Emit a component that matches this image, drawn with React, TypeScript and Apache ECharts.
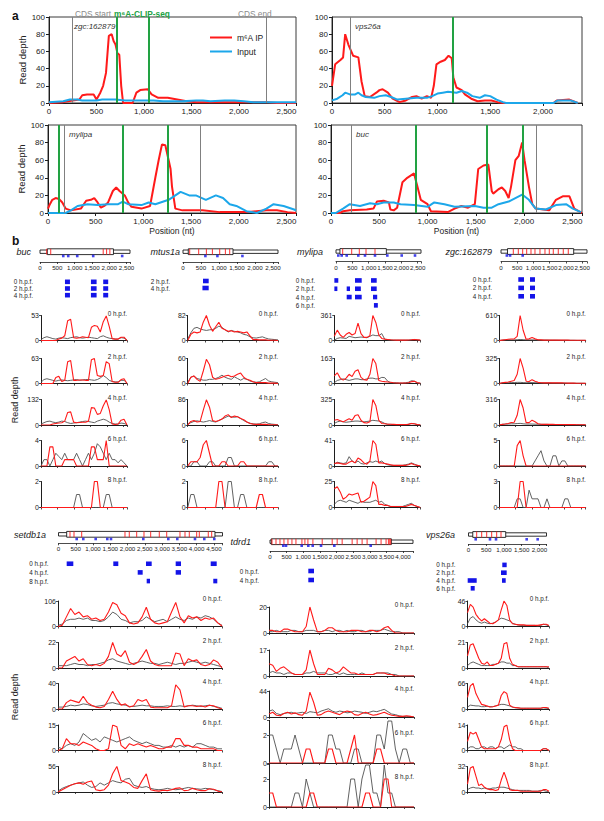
import React, { useEffect, useRef } from "react";
import * as echarts from "echarts";

const FONT = "'Liberation Sans', Arial, Helvetica, sans-serif";
const RED = "#ff1a1a";
const BLUE = "#1ca7ea";
const GREEN = "#22a243";
const REF_GRAY = "#808080";
const INPUT_GRAY = "#505050";
const SPOT_BLUE = "#1414e8";
const AXIS = "#1e1e1e";

/* ---------------- panel a : [position (nt), read depth] ---------------- */
const zgcIP = [[0,0],[150,1],[250,3],[320,4],[350,9],[400,10],[470,10],[500,4],[540,12],[570,20],[600,35],[630,78],[660,80],[680,72],[700,68],[720,58],[740,56],[760,20],[780,0],[880,0],[920,12],[960,15],[1040,16],[1080,10],[1150,6],[1250,6],[1350,4],[1450,2],[1550,1],[2200,1],[2300,1],[2400,0],[2600,0]];
const zgcInput = [[0,1],[150,2],[220,4],[300,4],[350,3],[500,3],[560,4],[700,4],[800,3],[1000,3],[1100,3],[1200,2],[1400,2],[1550,3],[1620,3],[1700,2],[1850,3],[1950,3],[2050,2],[2150,1],[2600,1]];
const zgcCDS = [242, 2284];
const zgcCLIP = [712, 1052];

const vpsIP = [[0,20],[30,45],[80,50],[105,53],[125,80],[155,68],[200,55],[250,53],[280,25],[310,8],[360,7],[420,12],[450,15],[480,16],[530,12],[575,5],[640,1],[700,3],[760,7],[800,8],[850,5],[900,8],[940,6],[965,20],[990,45],[1030,48],[1070,50],[1105,55],[1135,52],[1150,30],[1180,18],[1230,15],[1260,10],[1320,5],[1380,2],[1450,3],[1510,3],[1570,1],[1630,0],[2100,0],[2130,3],[2250,4],[2330,0]];
const vpsInput = [[0,3],[50,5],[100,9],[125,12],[170,10],[220,10],[250,12],[280,9],[320,7],[400,6],[450,8],[510,9],[560,7],[620,4],[700,5],[800,6],[900,6],[950,8],[1000,11],[1050,12],[1100,13],[1180,12],[1230,14],[1280,12],[1330,8],[1400,6],[1450,9],[1500,8],[1560,4],[1620,1],[1650,0],[2100,0],[2140,3],[2260,3],[2330,0]];
const vpsCDS = [177];
const vpsCLIP = [1141];

const mylipaIP = [[0,5],[20,10],[45,15],[80,17],[115,16],[150,12],[185,5],[240,3],[345,5],[400,14],[450,15],[485,17],[520,12],[555,6],[590,8],[630,12],[680,25],[715,29],[750,25],[805,20],[840,12],[875,7],[980,5],[1070,8],[1125,40],[1160,60],[1195,78],[1230,77],[1265,60],[1285,50],[1300,30],[1335,5],[1410,3],[1620,3],[1800,1],[2100,1],[2290,3],[2400,3],[2510,1],[2600,0]];
const mylipaInput = [[0,0],[185,0],[240,3],[310,8],[415,10],[520,9],[630,10],[735,10],[785,13],[840,10],[980,9],[1055,12],[1125,10],[1265,15],[1335,20],[1390,24],[1480,20],[1550,20],[1655,15],[1760,20],[1835,17],[1905,10],[1975,8],[2080,2],[2190,0],[2290,5],[2365,10],[2470,8],[2580,4],[2600,3]];
const mylipaCDS = [170, 1600];
const mylipaCLIP = [110, 780, 1260];

const bucIP = [[0,0],[90,0],[125,2],[195,3],[370,4],[440,5],[475,13],[545,14],[600,12],[615,4],[650,3],[685,6],[740,35],[790,40],[860,45],[895,30],[930,15],[1000,10],[1035,2],[1210,1],[1280,5],[1350,8],[1420,6],[1490,10],[1525,50],[1580,54],[1630,55],[1665,25],[1680,22],[1735,27],[1770,29],[1805,25],[1840,17],[1865,30],[1910,60],[1945,65],[1980,80],[2005,60],[2050,30],[2085,10],[2120,5],[2260,3],[2330,15],[2400,19],[2470,19],[2520,5],[2600,0]];
const bucInput = [[0,0],[50,0],[125,5],[195,10],[300,8],[405,11],[475,10],[545,12],[650,12],[720,10],[860,9],[1000,7],[1070,12],[1175,10],[1280,7],[1490,8],[1580,6],[1665,6],[1735,10],[1840,13],[1980,21],[2050,15],[2120,5],[2225,4],[2330,9],[2435,10],[2505,5],[2590,1]];
const bucCDS = [211, 2122];
const bucCLIP = [873, 1612, 1991];

/* ---------------- panel b : read depth profiles (evenly spaced along the transcript) ---------------- */
const bucIP_0 = [0,0,0,0,0,0,3,5,10,42,45,6,5,6,8,7,6,28,32,30,18,40,52,30,4,3,3,7,7,0];
const bucIN_0 = [2,6,8,6,4,3,5,6,5,4,6,7,8,6,5,6,7,6,5,4,8,10,7,5,4,3,3,6,5,1];
const bucIP_2 = [0,0,0,0,0,15,18,5,8,55,58,8,8,9,9,8,8,60,63,20,18,20,55,50,5,3,3,10,12,0];
const bucIN_2 = [3,10,12,10,8,6,8,9,8,7,8,9,10,8,9,10,10,9,8,10,14,20,15,8,5,4,4,8,8,1];
const bucIP_4 = [0,0,0,0,5,8,10,12,20,65,68,15,12,13,14,14,20,90,88,55,60,100,130,80,5,3,5,25,30,0];
const bucIN_4 = [5,12,18,20,15,12,15,20,18,12,8,10,12,15,18,20,18,15,12,20,25,30,25,15,8,5,5,10,8,2];
const bucIP_6 = [0,0,0,3,3,0,0,0,1,1,1,1,0,0,0,0,0,3,3,1,1,1,4,0,0,0,0,0,0,0];
const bucIN_6 = [0,1,1,0,1,2,1.5,1,2,1,1,1,2,1,0,1,2,1,2,3.5,3,2,1,2,1,1,0.5,1,0.5,0];
const bucIP_8 = [0,0,0,0,0,0,0,0,0,0,0,0,0,0,0,0,0,0,2,2,0,0,0,0,0,0,0,0,0,0];
const bucIN_8 = [0,0,0,0,0,0,0,0,0,0,0,0,1,1,0,0,0,0,0,0,0,0,1,1,0,0,0,0,0,0];

const mtIP_0 = [0,20,28,25,28,60,82,50,30,45,60,40,35,30,32,28,30,28,25,28,15,3,3,2,2,2,1,1,1,0];
const mtIN_0 = [5,25,40,43,38,35,33,35,36,40,47,43,35,28,33,30,28,25,20,18,12,9,8,10,12,8,5,4,3,2];
const mtIP_2 = [0,15,18,10,5,30,58,45,15,10,12,15,18,20,16,18,22,25,15,10,8,4,2,2,2,2,1,1,1,0];
const mtIN_2 = [3,15,18,12,10,8,8,10,10,12,15,20,15,12,10,16,12,8,12,10,6,4,3,4,8,12,6,4,3,2];
const mtIP_4 = [0,12,15,10,12,50,85,60,15,12,15,20,30,35,25,30,28,22,18,10,5,3,2,2,2,2,1,1,1,0];
const mtIN_4 = [2,8,12,14,12,10,12,15,12,10,15,20,25,30,28,26,28,22,15,10,6,4,3,4,8,10,5,3,2,1];
const mtIP_6 = [0,1,1,1,2,5,6,3,0,0,0,1,1,0,0,0,0,1,1,0,0,0,0,0,0,0,0,0,0,0];
const mtIN_6 = [0,0,1,1,0,0,0,1,1,0,0,0,0,2,2,0,0,0,0,0,0,0,0,0,0,0,1,1,0,0];
const mtIP_8 = [0,0,0,0,0,0,0,0,0,0,2,2,0,0,0,0,0,0,0,0,0,0,0,1,1,0,0,0,0,0];
const mtIN_8 = [0,1,1,0,0,0,0,0,0,0,0,0,0,2,2,0,0,1,1,0,0,0,0,0,0,0,0,0,0,0];

const myIP_0 = [60,150,80,45,90,115,80,100,250,100,45,45,70,361,260,80,30,20,15,10,8,5,5,5,5,8,10,15,10,5];
const myIN_0 = [5,30,40,35,30,60,50,40,45,50,45,40,60,80,70,70,100,20,10,8,5,5,5,5,5,5,10,15,8,3];
const myIP_2 = [50,70,35,22,35,60,45,80,90,40,25,22,60,163,130,20,15,12,10,8,5,3,3,3,3,5,12,14,5,2];
const myIN_2 = [5,20,25,30,25,20,25,30,30,25,25,30,35,35,30,30,40,38,15,5,5,5,3,3,5,8,18,15,5,2];
const myIP_4 = [60,70,55,40,60,80,60,120,130,60,30,25,40,325,250,60,20,15,10,10,8,5,5,5,5,8,20,15,5,2];
const myIN_4 = [20,40,50,40,35,40,45,50,50,45,40,45,50,60,55,50,40,20,10,8,5,5,5,5,5,10,20,15,5,2];
const myIP_6 = [4,5,4,3,3,6,8,5,13,10,5,3,8,41,35,5,5,4,3,2,1,1,1,1,1,2,4,2,1,0];
const myIN_6 = [3,6,5,4,5,15,8,5,8,4,3,5,7,6,8,6,8,4,2,1,1,1,1,1,2,3,5,3,1,0];
const myIP_8 = [18,20,15,8,10,13,12,13,14,5,6,8,10,25,21,3,3,2,2,1,1,1,1,1,1,2,3,2,1,0];
const myIN_8 = [3,6,7,6,5,7,6,5,4,6,5,5,5,6,7,5,6,3,2,1,1,1,1,1,2,3,4,2,1,0];

const zgIP_0 = [0,10,20,30,35,40,100,610,250,30,40,75,40,20,15,10,10,10,12,10,8,8,8,8,5,5,5,5,5,3];
const zgIN_0 = [0,10,15,15,15,15,20,25,20,15,15,15,15,12,10,10,10,8,8,8,6,5,5,5,5,5,3,3,3,2];
const zgIP_2 = [0,10,15,20,30,40,120,325,200,30,25,50,30,15,10,8,8,10,8,8,10,8,6,5,5,5,4,4,3,2];
const zgIN_2 = [0,8,10,10,12,12,15,15,12,10,12,12,10,10,8,8,8,8,6,6,5,5,5,4,4,4,3,3,3,2];
const zgIP_4 = [0,8,12,18,30,35,120,316,210,30,30,60,40,15,10,8,8,8,8,6,6,6,5,5,5,5,4,4,3,2];
const zgIN_4 = [0,8,12,12,15,15,18,20,15,12,12,12,10,10,8,8,8,6,6,6,5,5,5,4,4,4,3,3,3,2];
const zgIP_6 = [0,0,0,0,0,0,4,5,2,0,0,0,0,0,0,0,0,0,0,0,0,0,0,0,0,0,0,0,0,0];
const zgIN_6 = [0,0,0,0,0,0,0,0,0,0,0,0,1,2,3,1,0,0,2,2,0,1,1,0,0,0,0,0,0,0];
const zgIP_8 = [0,0,0,0,0,0,0,3,3,0,0,0,0,0,0,0,0,0,0,0,0,0,0,0,0,0,0,0,0,0];
const zgIN_8 = [0,0,0,0,0,0,1,1,0,0,2,1,1,1,0,0,1,0,0,0,0,0,1,1,0,0,0,0,0,0];

const setIP_0 = [0,5,40,75,50,60,40,45,30,35,25,30,60,100,90,55,45,15,10,15,40,80,30,15,10,15,20,60,100,40,15,45,35,40,25,35,30,35,15,2];
const setIN_0 = [5,10,25,30,30,35,30,35,25,25,20,25,40,60,50,30,25,15,20,20,25,40,30,20,25,30,20,30,40,30,25,35,30,40,35,45,40,30,15,5];
const setIP_2 = [0,0,6,8,10,6,8,3,2,3,2,4,10,22,12,10,15,5,3,5,10,16,6,3,2,2,2,2,13,12,2,8,6,7,3,2,3,7,5,0];
const setIN_2 = [2,2,2,3,4,3,3,2,3,3,4,5,7,8,6,5,4,3,4,5,6,5,4,4,3,4,5,4,3,4,4,5,6,5,4,5,4,3,2,1];
const setIP_4 = [0,0,10,14,12,10,20,10,6,3,2,4,15,28,15,6,8,3,5,15,12,15,3,2,2,2,2,5,38,30,3,5,5,4,5,3,6,5,2,0];
const setIN_4 = [3,3,4,6,5,6,8,7,5,4,5,6,9,10,8,7,6,4,4,5,6,5,5,4,4,4,5,4,4,5,4,5,6,5,4,5,6,4,3,1];
const setIP_6 = [0,1,7,4,4,3,5,4,3,1,0,0,1,15,14,3,1,4,3,4,3,2,3,2,1,1,2,2,7,7,3,3,2,2,1,1,1,1,0,0];
const setIN_6 = [2,1,3,4,3,5,10,8,6,7,5,8,7,6,5,6,7,8,6,5,4,5,4,3,3,2,2,3,2,3,2,3,2,4,4,3,2,2,1,1];
const setIP_8 = [0,5,10,15,18,20,17,22,24,5,3,5,15,40,56,25,22,18,10,8,25,40,5,3,2,4,3,5,8,9,3,4,8,5,3,3,7,6,2,0];
const setIN_8 = [2,8,12,15,18,20,22,15,10,12,20,15,20,25,22,20,28,30,15,12,10,12,8,6,5,6,8,6,5,6,8,10,8,7,6,8,7,5,3,1];

const tdIP_0 = [2,2,1,1,3,3,2,1,1,1,5,20,10,1,1,2,4,4,2,1,1,1,2,2,2,1,1,2,2,1,2,4,5,2,0,0,0,0,0,0];
const tdIN_0 = [1,1,2,1,1,1,2,2,1,1,2,2,2,1,1,2,2,1,2,2,1,2,1,1,2,2,1,1,2,2,2,3,2,1,1,1,0,0,0,0];
const tdIP_2 = [8,7,3,5,6,4,2,1,1,1,4,17,8,1,1,1,5,4,2,3,6,4,2,2,1,1,1,1,1,2,2,2,1,1,0,0,0,0,0,0];
const tdIN_2 = [2,3,2,2,1,2,2,1,1,1,2,2,3,2,2,2,1,1,2,1,2,1,1,1,1,2,1,1,1,2,2,2,2,1,1,0,0,0,0,0];
const tdIP_4 = [5,8,3,2,6,8,5,7,4,3,10,42,25,3,4,8,10,8,6,4,8,10,9,4,3,6,8,5,3,4,6,8,5,3,2,1,1,2,1,0];
const tdIN_4 = [10,12,6,4,6,7,8,6,7,8,6,9,8,7,10,12,14,10,8,10,9,7,8,10,9,8,6,8,10,9,11,13,9,5,4,2,1,1,1,0];
const tdIP_6 = [0,0,0,0,0,0,0,0,0,0,1,1,0,0,0,0,1,1,0,0,0,0,1,2,0,0,0,0,0,1,1,0,0,0,0,0,0,0,0,0];
const tdIN_6 = [2,2,1,0,1,1,1,2,1,0,0,0,0,0,0,0,2,2,1,1,0,0,0,1,1,0,0,0,0,2,2,1,3,3,1,0,1,1,0,0];
const tdIP_8 = [1,1,0,0,0,0,0,0,0,0,0,1,1,0,0,0,0,0,0,0,0,0,0,0,0,0,1,1,0,0,0,2,2,0,0,0,0,0,0,0];
const tdIN_8 = [0,0,0,0,0,0,0,1,1,0,2,1,0,0,0,0,0,0,0,0,0,0,2,2,0,2,3,3,1,1,0,3,1,1,0,0,0,0,0,0];

const vpIP_0 = [25,40,35,22,15,10,14,10,6,5,8,12,30,46,38,12,5,4,3,3,3,2,2,2,2,2,3,4,4,2];
const vpIN_0 = [5,15,18,12,8,6,8,6,5,6,8,12,15,14,12,10,6,4,3,2,2,2,2,2,2,1,2,4,3,1];
const vpIP_2 = [10,19,20,14,8,4,3,5,2,2,3,4,8,20,21,8,3,2,1,1,1,1,1,1,1,1,1,1,1,1];
const vpIN_2 = [2,4,5,4,3,2,2,2,2,3,3,4,5,5,4,4,2,2,1,1,1,1,1,1,1,1,1,1,1,0];
const vpIP_4 = [30,60,66,40,25,12,10,8,5,6,8,10,35,45,40,10,5,4,3,2,2,2,2,2,2,2,2,4,4,2];
const vpIN_4 = [5,10,9,8,8,6,6,7,6,6,8,10,12,12,10,8,5,3,3,2,2,2,2,2,2,2,2,3,2,1];
const vpIP_6 = [5,10,9,10,6,2,1,1,1,1,1,2,6,13,14,6,1,0,0,0,0,0,0,0,0,0,0,1,1,0];
const vpIN_6 = [1,2,2,1,1,2,2,1,2,2,1,2,2,1,2,3,2,2,1,1,0,0,0,0,0,0,0,1,1,0];
const vpIP_8 = [10,30,32,20,8,10,6,4,3,3,2,3,15,25,15,3,2,2,2,1,1,1,1,1,1,1,1,3,3,1];
const vpIN_8 = [3,5,6,5,5,4,5,4,4,5,5,6,6,6,5,4,3,2,2,2,2,2,2,1,1,1,2,2,1,0];

/* ---------------- panel b : gene models (nt) ---------------- */
const bucLen = 2600, bucCDSb = [211, 2122];
const bucJunc = [193, 310, 1826, 1924, 2019];
const bucSites = [672, 816, 1076, 1537, 2374];
const bucRows = ["0 h.p.f.", "2 h.p.f.", "4 h.p.f."];
const bucSpots = [[721,865,0],[1471,1635,0],[1826,1970,0],[721,865,1],[1471,1635,1],[1826,1970,1],[721,865,2],[1471,1635,2],[1826,1970,2]];

const mtLen = 2640, mtCDS = [147, 1390];
const mtJunc = [186, 436, 650, 817, 1020, 1178, 1298];
const mtSites = [622, 956, 1651];
const mtRows = ["2 h.p.f.", "4 h.p.f."];
const mtSpots = [[556,714,0],[540,714,1]];

const myLen = 2600, myCDS = [120, 1540];
const myJunc = [205, 480, 713, 918, 1193];
const mySites = [70, 174, 327, 682, 887, 1193, 1570, 2010, 2417];
const myRows = ["0 h.p.f.", "2 h.p.f.", "4 h.p.f.", "6 h.p.f."];
const mySpots = [[-50,70,0],[581,786,0],[1071,1245,0],[-50,40,1],[327,428,1],[581,760,1],[1071,1245,1],[327,480,2],[581,786,2],[1132,1260,2],[1160,1280,3]];

const zgLen = 2650, zgCDS = [200, 2240];
const zgJunc = [379, 533, 668, 792, 924, 1047, 1201, 1355, 1488, 1611, 1765, 1919, 2073];
const zgSites = [180, 280, 668];
const zgRows = ["0 h.p.f.", "2 h.p.f.", "4 h.p.f."];
const zgSpots = [[533,708,0],[893,1047,0],[533,708,1],[893,1047,1],[533,708,2],[893,1047,2]];

const setLen = 4750, setCDS = [237, 4532];
const setJunc = [333, 449, 672, 1926, 2050, 2265, 2476, 2670, 2919, 3134, 3519, 3664, 3788, 4002, 4078, 4338, 4437];
const setSites = [527, 718, 1077, 1413, 1520, 2456, 3180, 3440, 3953, 4222, 4512];
const setRows = ["0 h.p.f.", "4 h.p.f.", "8 h.p.f."];
const setSpots = [[237,429,0],[1587,1732,0],[2534,2699,0],[3394,3548,0],[4408,4582,0],[2294,2438,1],[3394,3548,1],[2554,2650,2],[4483,4599,2]];

const tdLen = 4300, tdCDS = [40, 3650];
const tdJunc = [60, 180, 300, 420, 540, 660, 780, 960, 1050, 1140, 1290, 1570, 1870, 2020, 2170, 2470, 2620, 2770, 2920, 3190, 3340, 3490, 3560, 3600, 3630];
const tdSites = [400, 481, 953, 1152, 1284, 1534, 1934, 3028];
const tdRows = ["0 h.p.f.", "4 h.p.f."];
const tdSpots = [[1152,1323,0],[1152,1323,1]];

const vpLen = 2200, vpCDS = [120, 1050];
const vpJunc = [231, 372, 513, 654, 795, 917];
const vpSites = [203, 606, 776, 1641, 1951];
const vpRows = ["0 h.p.f.", "2 h.p.f.", "4 h.p.f.", "6 h.p.f."];
const vpSpots = [[953,1077,0],[917,1077,1],[-23,231,2],[945,1049,2],[62,175,3]];

/* ---------------- layout ---------------- */
const ROW1_TOPS = [315.5, 358.5, 399.5, 440.5, 481.5];
const ROW1_H = [25, 25, 25.5, 25.5, 26];
const ROW2_TOPS = [601, 642.5, 683.5, 725, 766.5];
const ROW2_H = [25.5, 25.5, 25.5, 25.5, 25.5];
const TD_TOPS = [607, 650, 691, 720.3, 764.3];
const TD_H = [26, 26, 26, 42.7, 42.7];

const commaFmt = (v: number) => (Math.abs(v % 500) < 1e-6 ? v.toLocaleString("en-US") : "");

function buildOption() {
  const grid: any[] = [], xAxis: any[] = [], yAxis: any[] = [], series: any[] = [], elements: any[] = [];
  const addGrid = (rect: any, xa: any, ya: any) => {
    const i = grid.length;
    grid.push({ ...rect, containLabel: false, outerBoundsMode: "none" });
    xAxis.push({ ...xa, gridIndex: i });
    yAxis.push({ ...ya, gridIndex: i });
    return i;
  };
  const text = (x: number, y: number, t: string, size: number, o: any = {}) => {
    const font = `${o.italic ? "italic " : ""}${o.bold ? "bold " : ""}${size}px ${FONT}`;
    elements.push({
      type: "text", x, y, rotation: o.rot || 0, silent: true, z: 100,
      style: { text: t, fill: o.color || "#222", font, textAlign: o.align || "left", textVerticalAlign: "middle", align: o.align || "left", verticalAlign: "middle" },
    });
  };

  /* ---------- panel a ---------- */
  const A_CHARTS = [
    { gene: "zgc:162879", left: 49, top: 17, width: 247, height: 86, xmax: 2600, ip: zgcIP, input: zgcInput, cds: zgcCDS, clip: zgcCLIP, yName: true, xName: false, nx: 74, ny: 26 },
    { gene: "vps26a", left: 332, top: 17, width: 250, height: 86, xmax: 2370, ip: vpsIP, input: vpsInput, cds: vpsCDS, clip: vpsCLIP, yName: false, xName: false, nx: 355, ny: 26 },
    { gene: "mylipa", left: 48, top: 125, width: 248, height: 88, xmax: 2600, ip: mylipaIP, input: mylipaInput, cds: mylipaCDS, clip: mylipaCLIP, yName: true, xName: true, nx: 69, ny: 134 },
    { gene: "buc", left: 331, top: 125, width: 251, height: 88, xmax: 2600, ip: bucIP, input: bucInput, cds: bucCDS, clip: bucCLIP, yName: false, xName: true, nx: 356, ny: 134 },
  ];
  A_CHARTS.forEach((c) => {
    const gi = addGrid(
      { left: c.left, top: c.top, width: c.width, height: c.height, show: true, borderColor: "#3a3a3a", borderWidth: 1 },
      {
        type: "value", min: 0, max: c.xmax, interval: 500,
        axisLine: { show: true, onZero: false, lineStyle: { color: AXIS } },
        axisTick: { show: true, length: 3, lineStyle: { color: AXIS } },
        axisLabel: { fontSize: 8, color: "#222", margin: 4, formatter: commaFmt, fontFamily: FONT },
        splitLine: { show: false },
        name: c.xName ? "Position (nt)" : "", nameLocation: "middle", nameGap: 13,
        nameTextStyle: { fontSize: 8.5, color: "#222", fontFamily: FONT },
      },
      {
        type: "value", min: 0, max: 100, interval: 20,
        axisLine: { show: true, lineStyle: { color: AXIS } },
        axisTick: { show: true, length: 3, lineStyle: { color: AXIS } },
        axisLabel: { fontSize: 8, color: "#222", margin: 4, fontFamily: FONT },
        splitLine: { show: false },
        name: c.yName ? "Read depth" : "", nameLocation: "middle", nameGap: 22,
        nameTextStyle: { fontSize: 9.5, color: "#222", fontFamily: FONT },
      }
    );
    series.push({
      type: "line", name: "m⁶A IP", xAxisIndex: gi, yAxisIndex: gi, data: c.ip, showSymbol: false, symbol: "none",
      lineStyle: { color: RED, width: 2 }, itemStyle: { color: RED }, z: 3, silent: true,
      markLine: {
        silent: true, symbol: ["none", "none"], label: { show: false }, animation: false,
        data: [
          ...c.cds.map((v) => ({ xAxis: v, lineStyle: { color: REF_GRAY, width: 1, type: "solid" } })),
          ...c.clip.map((v) => ({ xAxis: v, lineStyle: { color: GREEN, width: 2, type: "solid" } })),
        ],
      },
    });
    series.push({
      type: "line", name: "Input", xAxisIndex: gi, yAxisIndex: gi, data: c.input, showSymbol: false, symbol: "none",
      lineStyle: { color: BLUE, width: 2 }, itemStyle: { color: BLUE }, z: 4, silent: true,
    });
    text(c.nx, c.ny, c.gene, 8, { italic: true, color: "#333" });
  });
  text(12, 15.5, "a", 12, { bold: true, color: "#111" });
  text(75, 13.5, "CDS start", 8.3, { color: "#8a8a8a" });
  text(114, 13.5, "m⁶A-CLIP-seq", 8.3, { color: GREEN, bold: true });
  text(238, 13.5, "CDS end", 8.3, { color: "#8a8a8a" });

  /* ---------- panel b ---------- */
  text(12, 241, "b", 12, { bold: true, color: "#111" });
  text(15, 400, "Read depth", 9, { rot: Math.PI / 2, align: "center" });
  text(15, 697, "Read depth", 9, { rot: Math.PI / 2, align: "center" });

  const B_GENES: any[] = [
    {
      name: "buc", nameRight: 31, nameY: 252, len: bucLen, cds: bucCDSb, junc: bucJunc, sites: bucSites, rows: bucRows, spots: bucSpots,
      diag: { left: 40, width: 90, axisY: 262, h: 16, box: 10.3, dot: 6 }, dots: { top: 278.5, height: 20, margin: 7 },
      mini: { left: 41, width: 86, len: 2600, tops: ROW1_TOPS, heights: ROW1_H },
      tracks: [[bucIP_0, bucIN_0, 53, 53, "0 h.p.f."], [bucIP_2, bucIN_2, 63, 63, "2 h.p.f."], [bucIP_4, bucIN_4, 132, 132, "4 h.p.f."], [bucIP_6, bucIN_6, 4, 4, "6 h.p.f."], [bucIP_8, bucIN_8, 2, 2, "8 h.p.f."]],
    },
    {
      name: "mtus1a", nameRight: 180, nameY: 252, len: mtLen, cds: mtCDS, junc: mtJunc, sites: mtSites, rows: mtRows, spots: mtSpots,
      diag: { left: 183, width: 95, axisY: 262, h: 16, box: 10.3, dot: 6 }, dots: { top: 277.5, height: 14, margin: 13 },
      mini: { left: 187.7, width: 90.3, len: 2640, tops: ROW1_TOPS, heights: ROW1_H },
      tracks: [[mtIP_0, mtIN_0, 82, 82, "0 h.p.f."], [mtIP_2, mtIN_2, 60, 60, "2 h.p.f."], [mtIP_4, mtIN_4, 86, 86, "4 h.p.f."], [mtIP_6, mtIN_6, 6, 6, "6 h.p.f."], [mtIP_8, mtIN_8, 2, 2, "8 h.p.f."]],
    },
    {
      name: "mylipa", nameRight: 323, nameY: 252, len: myLen, cds: myCDS, junc: myJunc, sites: mySites, rows: myRows, spots: mySpots,
      diag: { left: 336, width: 85, axisY: 261.5, h: 16, box: 10, dot: 6 }, dots: { top: 276.3, height: 33.2, margin: 21 },
      mini: { left: 334.3, width: 86, len: 2600, tops: ROW1_TOPS, heights: ROW1_H },
      tracks: [[myIP_0, myIN_0, 361, 361, "0 h.p.f."], [myIP_2, myIN_2, 163, 163, "2 h.p.f."], [myIP_4, myIN_4, 325, 325, "4 h.p.f."], [myIP_6, myIN_6, 41, 41, "6 h.p.f."], [myIP_8, myIN_8, 25, 25, "8 h.p.f."]],
    },
    {
      name: "zgc:162879", nameRight: 492, nameY: 252, len: zgLen, cds: zgCDS, junc: zgJunc, sites: zgSites, rows: zgRows, spots: zgSpots,
      diag: { left: 501, width: 86, axisY: 261.5, h: 16, box: 10, dot: 6 }, dots: { top: 275.3, height: 25.2, margin: 9 },
      mini: { left: 499.3, width: 86.4, len: 2650, tops: ROW1_TOPS, heights: ROW1_H },
      tracks: [[zgIP_0, zgIN_0, 610, 610, "0 h.p.f."], [zgIP_2, zgIN_2, 325, 325, "2 h.p.f."], [zgIP_4, zgIN_4, 316, 316, "4 h.p.f."], [zgIP_6, zgIN_6, 5, 5, "6 h.p.f."], [zgIP_8, zgIN_8, 3, 3, "8 h.p.f."]],
    },
    {
      name: "setdb1a", nameRight: 46, nameY: 535, len: setLen, cds: setCDS, junc: setJunc, sites: setSites, rows: setRows, spots: setSpots,
      diag: { left: 58.5, width: 164, axisY: 543.3, h: 14, box: 9, dot: 4.3 }, dots: { top: 559.4, height: 26, margin: 10 },
      mini: { left: 58, width: 164, len: 4750, tops: ROW2_TOPS, heights: ROW2_H },
      tracks: [[setIP_0, setIN_0, 106, 106, "0 h.p.f."], [setIP_2, setIN_2, 22, 22, "2 h.p.f."], [setIP_4, setIN_4, 40, 40, "4 h.p.f."], [setIP_6, setIN_6, 15, 15, "6 h.p.f."], [setIP_8, setIN_8, 56, 56, "8 h.p.f."]],
    },
    {
      name: "tdrd1", nameRight: 251, nameY: 541.7, len: tdLen, cds: tdCDS, junc: tdJunc, sites: tdSites, rows: tdRows, spots: tdSpots,
      diag: { left: 270, width: 143, axisY: 551, h: 14, box: 9.3, dot: 5.3 }, dots: { top: 566.5, height: 18, margin: 11 },
      mini: { left: 269, width: 145, len: 4300, tops: TD_TOPS, heights: TD_H },
      tracks: [[tdIP_0, tdIN_0, 20, 20, "0 h.p.f."], [tdIP_2, tdIN_2, 17, 17, "2 h.p.f."], [tdIP_4, tdIN_4, 44, 44, "4 h.p.f."], [tdIP_6, tdIN_6, 3.05, 2, "6 h.p.f."], [tdIP_8, tdIN_8, 3.05, 2, "8 h.p.f."]],
    },
    {
      name: "vps26a", nameRight: 455, nameY: 534.5, len: vpLen, cds: vpCDS, junc: vpJunc, sites: vpSites, rows: vpRows, spots: vpSpots,
      diag: { left: 468.5, width: 78, axisY: 544, h: 14, box: 9.5, dot: 4.7 }, dots: { top: 561, height: 31.2, margin: 13 },
      mini: { left: 467.5, width: 81.5, len: 2250, tops: ROW2_TOPS, heights: ROW2_H },
      tracks: [[vpIP_0, vpIN_0, 46, 46, "0 h.p.f."], [vpIP_2, vpIN_2, 21, 21, "2 h.p.f."], [vpIP_4, vpIN_4, 66, 66, "4 h.p.f."], [vpIP_6, vpIN_6, 14, 14, "6 h.p.f."], [vpIP_8, vpIN_8, 32, 32, "8 h.p.f."]],
    },
  ];

  B_GENES.forEach((g) => {
    const d = g.diag;
    text(g.nameRight, g.nameY, g.name, 9, { italic: true, align: "right", color: "#222" });

    // gene model
    const di = addGrid(
      { left: d.left, top: d.axisY - d.h, width: d.width, height: d.h },
      {
        type: "value", min: 0, max: g.len, interval: 500,
        axisLine: { show: true, onZero: false, lineStyle: { color: AXIS, width: 0.8 } },
        axisTick: { show: true, length: 2, lineStyle: { color: AXIS, width: 0.8 } },
        axisLabel: { show: true, fontSize: 6.2, color: "#222", margin: 2.5, formatter: commaFmt, fontFamily: FONT },
        splitLine: { show: false },
      },
      { type: "value", min: 0, max: d.h, show: false }
    );
    series.push({
      type: "custom", xAxisIndex: di, yAxisIndex: di, silent: true, z: 2,
      data: [[0, g.len, g.cds[0], g.cds[1]]], encode: { x: [0, 1, 2, 3] },
      renderItem: (_p: any, api: any) => {
        const y = api.coord([0, d.box])[1];
        const x0 = api.coord([api.value(0), d.box])[0];
        const x1 = api.coord([api.value(1), d.box])[0];
        const c0 = api.coord([api.value(2), d.box])[0];
        const c1 = api.coord([api.value(3), d.box])[0];
        return {
          type: "group",
          children: [
            { type: "rect", shape: { x: x0, y: y - 1.7, width: x1 - x0, height: 3.4 }, style: { fill: "#fff", stroke: "#1a1a1a", lineWidth: 0.9 } },
            { type: "rect", shape: { x: c0, y: y - 2.9, width: c1 - c0, height: 5.8 }, style: { fill: "#fff", stroke: "#1a1a1a", lineWidth: 0.9 } },
          ],
        };
      },
    });
    series.push({
      type: "custom", xAxisIndex: di, yAxisIndex: di, silent: true, z: 3,
      data: g.junc.map((v: number) => [v]), encode: { x: 0 },
      renderItem: (_p: any, api: any) => {
        const pt = api.coord([api.value(0), d.box]);
        return { type: "line", shape: { x1: pt[0], y1: pt[1] - 2.9, x2: pt[0], y2: pt[1] + 2.9 }, style: { stroke: RED, lineWidth: 0.9 } };
      },
    });
    series.push({
      type: "scatter", xAxisIndex: di, yAxisIndex: di, silent: true, z: 3,
      data: g.sites.map((v: number) => [v, d.dot]), symbol: "rect", symbolSize: 2.6, itemStyle: { color: SPOT_BLUE },
    });

    // peak calls per stage
    const si = addGrid(
      { left: d.left, top: g.dots.top, width: d.width, height: g.dots.height },
      { type: "value", min: 0, max: g.len, show: false },
      {
        type: "category", data: g.rows, inverse: true,
        axisLine: { show: false }, axisTick: { show: false },
        axisLabel: { interval: 0, fontSize: 6.3, color: "#222", margin: g.dots.margin, fontFamily: FONT },
        splitLine: { show: false },
      }
    );
    series.push({
      type: "custom", xAxisIndex: si, yAxisIndex: si, silent: true, z: 3,
      data: g.spots, encode: { x: [0, 1], y: 2 },
      renderItem: (_p: any, api: any) => {
        const a = api.coord([api.value(0), api.value(2)]);
        const b = api.coord([api.value(1), api.value(2)]);
        const h = 4.6;
        return { type: "rect", shape: { x: a[0], y: a[1] - h / 2, width: Math.max(b[0] - a[0], 3), height: h }, style: { fill: SPOT_BLUE } };
      },
    });

    // read-depth tracks
    g.tracks.forEach((t: any[], k: number) => {
      const [ip, inp, maxV, lab, tp] = t;
      const top = g.mini.tops[k], h = g.mini.heights[k];
      const mi = addGrid(
        { left: g.mini.left, top, width: g.mini.width, height: h },
        {
          type: "value", min: 0, max: g.mini.len, interval: 500,
          axisLine: { show: true, onZero: false, lineStyle: { color: AXIS, width: 1 } },
          axisTick: { show: true, length: 2, lineStyle: { color: AXIS, width: 0.8 } },
          axisLabel: { show: false }, splitLine: { show: false },
        },
        {
          type: "value", min: 0, max: maxV, interval: lab,
          axisLine: { show: true, lineStyle: { color: AXIS, width: 1 } },
          axisTick: { show: true, length: 2, lineStyle: { color: AXIS, width: 0.8 } },
          axisLabel: { fontSize: 7, color: "#222", margin: 2, fontFamily: FONT, formatter: (v: number) => (v === 0 || v === lab ? String(v) : "") },
          splitLine: { show: false },
        }
      );
      const step = g.mini.len / (ip.length - 1);
      series.push({
        type: "line", xAxisIndex: mi, yAxisIndex: mi, silent: true, z: 2, showSymbol: false, symbol: "none",
        data: inp.map((v: number, i: number) => [i * step, v]), lineStyle: { color: INPUT_GRAY, width: 0.9 },
      });
      series.push({
        type: "line", xAxisIndex: mi, yAxisIndex: mi, silent: true, z: 3, showSymbol: false, symbol: "none",
        data: ip.map((v: number, i: number) => [i * step, v]), lineStyle: { color: RED, width: 1.1 },
      });
      text(g.mini.left + g.mini.width, h > 30 ? top + 12 : top - 2.5, tp, 6.3, { align: "right" });
    });
  });

  return {
    animation: false,
    backgroundColor: "#ffffff",
    textStyle: { fontFamily: FONT },
    legend: {
      left: 205, top: 28, orient: "vertical", itemWidth: 22, itemHeight: 2, itemGap: 5, icon: "rect",
      selectedMode: false, data: ["m⁶A IP", "Input"],
      textStyle: { fontSize: 8.5, color: "#222", fontFamily: FONT },
    },
    grid, xAxis, yAxis, series,
    graphic: { elements },
  };
}

export default function App() {
  const ref = useRef<HTMLDivElement>(null);
  useEffect(() => {
    if (!ref.current) return;
    const chart = echarts.init(ref.current, undefined, { renderer: "svg" });
    chart.setOption(buildOption() as any);
    return () => chart.dispose();
  }, []);
  return <div ref={ref} style={{ position: "absolute", left: 0, top: 0, width: 604, height: 821, background: "#fff" }} />;
}
